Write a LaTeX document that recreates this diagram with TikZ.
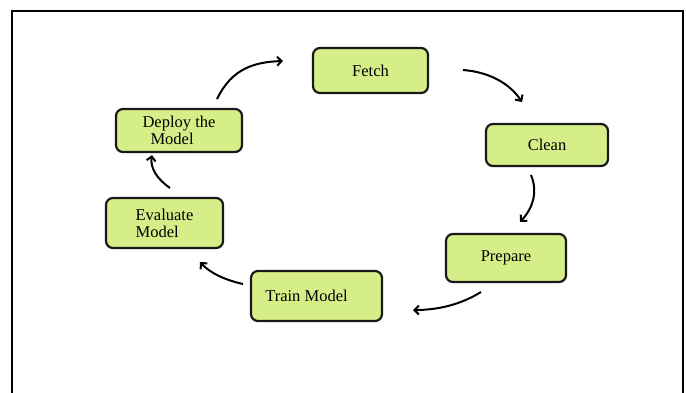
\documentclass[tikz,border=0pt]{standalone}
\usepackage{fontspec}
\setmainfont{Liberation Serif}
\usetikzlibrary{arrows.meta}
\definecolor{boxfill}{HTML}{D6EE88}
\tikzset{
  stagebox/.style={draw=black!90, line width=2.2pt, fill=boxfill, rounded corners=7pt,
    font=\fontsize{16.5pt}{17pt}\selectfont, inner sep=0pt},
  flow/.style={line width=2pt, -{Straight Barb[length=4.5pt,width=9pt]}}
}
\begin{document}
\begin{tikzpicture}[x=1pt,y=-1pt]
\useasboundingbox (0,0) rectangle (686,392);
\draw[line width=2pt] (12,395) -- (12,11) -- (683,11) -- (683,395);

\node[stagebox, minimum width=115pt, minimum height=45pt] (fetch) at (370.5,70.5) {Fetch};
\node[stagebox, minimum width=122pt, minimum height=42pt] (clean) at (547,145) {Clean};
\node[stagebox, minimum width=120pt, minimum height=48pt] (prepare) at (506,258) {Prepare};
\node[stagebox, minimum width=131pt, minimum height=50pt] (train) at (316.5,296) {Train Model\hspace*{20pt}};
\node[stagebox, minimum width=117pt, minimum height=50pt, align=left] (evaluate) at (164.5,223) {Evaluate\\Model};
\node[stagebox, minimum width=126pt, minimum height=43pt, align=left] (deploy) at (179,130.5) {Deploy the\\\hspace*{8pt}Model};

\coordinate (d1) at (217,99);   \coordinate (f0) at (283,61);
\coordinate (f1) at (463,70);   \coordinate (c0) at (522,102);
\coordinate (c1) at (531,175);  \coordinate (p0) at (520,222);
\coordinate (p1) at (481,292);  \coordinate (t0) at (413,310);
\coordinate (t1) at (243,284);  \coordinate (e0) at (200,262);
\coordinate (e1) at (170,188);  \coordinate (dd0) at (152,155);

\draw[flow] (d1) .. controls (232,68) and (255,62) .. (f0);
\draw[flow] (f1) .. controls (490,72) and (510,84) .. (c0);
\draw[flow] (c1) .. controls (538,192) and (533,208) .. (p0);
\draw[flow] (p1) .. controls (460,305) and (437,310) .. (t0);
\draw[flow] (t1) .. controls (225,280) and (210,273) .. (e0);
\draw[flow] (e1) .. controls (157,179) and (150,168) .. (dd0);
\end{tikzpicture}
\end{document}
